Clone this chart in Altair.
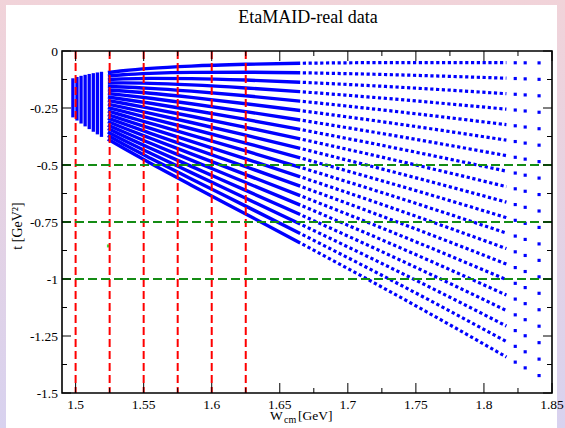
import altair as alt
import pandas as pd

# ---- kinematic grid of the EtaMAID data set: t [GeV^2] versus W_cm [GeV] ----
# cos(theta_cm) bins, one curve per bin (top curve = forward angles)
COS_BINS = [0.95, 0.85, 0.75, 0.65, 0.55, 0.45, 0.35, 0.25, 0.15, 0.05,
            -0.05, -0.15, -0.25, -0.35, -0.45, -0.55, -0.65, -0.75, -0.85, -0.95]

# columns just above threshold (points merge into vertical bars)
W_NEAR = [1.498, 1.501, 1.504, 1.507, 1.510, 1.513, 1.516, 1.519]
T_NEAR_TOP = [-0.1269, -0.1211, -0.1161, -0.1117, -0.1079, -0.1044, -0.1013, -0.0984]
T_NEAR_BOT = [-0.2839, -0.2978, -0.3109, -0.3234, -0.3354, -0.3470, -0.3584, -0.3695]

# densely sampled energy range: t for every cos bin at these W
W_DENSE = [1.5237, 1.535, 1.555, 1.585, 1.625, 1.665]
T_DENSE = [
    [-0.0943, -0.1097, -0.1251, -0.1405, -0.1558, -0.1712, -0.1866, -0.2020, -0.2173, -0.2327,
     -0.2481, -0.2635, -0.2788, -0.2942, -0.3096, -0.3250, -0.3403, -0.3557, -0.3711, -0.3865],
    [-0.0864, -0.1042, -0.1221, -0.1400, -0.1578, -0.1757, -0.1936, -0.2114, -0.2293, -0.2472,
     -0.2650, -0.2829, -0.3008, -0.3186, -0.3365, -0.3544, -0.3722, -0.3901, -0.4080, -0.4258],
    [-0.0761, -0.0980, -0.1199, -0.1418, -0.1637, -0.1856, -0.2075, -0.2294, -0.2514, -0.2733,
     -0.2952, -0.3171, -0.3390, -0.3609, -0.3828, -0.4047, -0.4266, -0.4485, -0.4704, -0.4923],
    [-0.0662, -0.0937, -0.1212, -0.1487, -0.1762, -0.2036, -0.2311, -0.2586, -0.2861, -0.3136,
     -0.3411, -0.3686, -0.3961, -0.4236, -0.4511, -0.4786, -0.5060, -0.5335, -0.5610, -0.5885],
    [-0.0583, -0.0929, -0.1274, -0.1620, -0.1965, -0.2311, -0.2657, -0.3002, -0.3348, -0.3693,
     -0.4039, -0.4385, -0.4730, -0.5076, -0.5421, -0.5767, -0.6112, -0.6458, -0.6804, -0.7149],
    [-0.0539, -0.0954, -0.1368, -0.1783, -0.2198, -0.2612, -0.3027, -0.3441, -0.3856, -0.4271,
     -0.4685, -0.5100, -0.5515, -0.5929, -0.6344, -0.6758, -0.7173, -0.7588, -0.8002, -0.8417],
]

# coarser, regularly spaced sampling at higher energies (drawn as dotted rows)
W_SPARSE = [1.665, 1.72, 1.78, 1.8165]
T_SPARSE = [
    [-0.0539, -0.0954, -0.1368, -0.1783, -0.2198, -0.2612, -0.3027, -0.3441, -0.3856, -0.4271,
     -0.4685, -0.5100, -0.5515, -0.5929, -0.6344, -0.6758, -0.7173, -0.7588, -0.8002, -0.8417],
    [-0.0511, -0.1021, -0.1530, -0.2039, -0.2549, -0.3058, -0.3568, -0.4077, -0.4587, -0.5096,
     -0.5606, -0.6115, -0.6625, -0.7134, -0.7643, -0.8153, -0.8662, -0.9172, -0.9681, -1.0191],
    [-0.0508, -0.1122, -0.1736, -0.2351, -0.2965, -0.3579, -0.4194, -0.4808, -0.5422, -0.6037,
     -0.6651, -0.7265, -0.7880, -0.8494, -0.9108, -0.9723, -1.0337, -1.0951, -1.1566, -1.2180],
    [-0.0514, -0.1194, -0.1873, -0.2552, -0.3232, -0.3911, -0.4590, -0.5270, -0.5949, -0.6628,
     -0.7308, -0.7987, -0.8667, -0.9346, -1.0025, -1.0705, -1.1384, -1.2063, -1.2743, -1.3422],
]

# last, widely spaced energy columns (individual points)
W_LAST = [1.823, 1.8303, 1.8405]
T_LAST = [
    [-0.0516, -0.1207, -0.1898, -0.2589, -0.3280, -0.3971, -0.4662, -0.5353, -0.6044, -0.6735,
     -0.7426, -0.8117, -0.8808, -0.9499, -1.0190, -1.0881, -1.1572, -1.2263, -1.2954, -1.3646],
    [-0.0518, -0.1222, -0.1926, -0.2631, -0.3335, -0.4039, -0.4743, -0.5447, -0.6152, -0.6856,
     -0.7560, -0.8264, -0.8968, -0.9672, -1.0377, -1.1081, -1.1785, -1.2489, -1.3193, -1.3898],
    [-0.0521, -0.1243, -0.1965, -0.2687, -0.3409, -0.4130, -0.4852, -0.5574, -0.6296, -0.7018,
     -0.7739, -0.8461, -0.9183, -0.9905, -1.0627, -1.1348, -1.2070, -1.2792, -1.3514, -1.4235],
]

# single extra point
W_EXTRA = [1.5241]
T_EXTRA = [-0.855]

# reference lines
W_MARKS = [1.5, 1.525, 1.55, 1.575, 1.6, 1.625]
T_MARKS = [-0.5, -0.75, -1.0]

# axis ticks and their labels
X_MAJOR = [1.5, 1.55, 1.6, 1.65, 1.7, 1.75, 1.8, 1.85]
X_LABELS = ["1.5", "1.55", "1.6", "1.65", "1.7", "1.75", "1.8", "1.85"]
X_MINOR = [1.525, 1.575, 1.625, 1.675, 1.725, 1.775, 1.825]
Y_MAJOR = [0, -0.25, -0.5, -0.75, -1, -1.25, -1.5]
Y_LABELS = ["0", "-0.25", "-0.5", "-0.75", "-1", "-1.25", "-1.5"]
Y_MINOR = [-0.125, -0.375, -0.625, -0.875, -1.125, -1.375]

W_PX, H_PX = 490, 342
SERIF = "Liberation Serif"
BLUE = "#0000ff"


def long_table(ws, rows):
    recs = []
    for w, row in zip(ws, rows):
        for c, t in zip(COS_BINS, row):
            recs.append({"W": w, "t": t, "cos": c})
    return pd.DataFrame(recs)


dense_df = long_table(W_DENSE, T_DENSE)
sparse_df = long_table(W_SPARSE, T_SPARSE)
last_df = long_table(W_LAST, T_LAST)
near_df = pd.DataFrame({"W": W_NEAR, "t": T_NEAR_TOP, "t2": T_NEAR_BOT})
extra_df = pd.DataFrame({"W": W_EXTRA, "t": T_EXTRA})
one = pd.DataFrame({"k": [0]})

xs = alt.Scale(domain=[1.49, 1.85], nice=False, zero=False)
ys = alt.Scale(domain=[-1.5, 0], nice=False, zero=False)


def X(field="W"):
    return alt.X(f"{field}:Q", scale=xs, axis=None)


def Y(field="t"):
    return alt.Y(f"{field}:Q", scale=ys, axis=None)


# window-style backdrop
backdrop = alt.Chart(one).mark_rect(
    color=alt.LinearGradient(
        gradient="linear",
        stops=[alt.GradientStop(color="#f1d3d9", offset=0),
               alt.GradientStop(color="#d8d2ef", offset=1)],
        x1=0, x2=0, y1=0, y2=1,
    )
).encode(x=alt.value(-62), x2=alt.value(503), y=alt.value(-51), y2=alt.value(377))

panel = alt.Chart(one).mark_rect(color="white").encode(
    x=alt.value(-56), x2=alt.value(495), y=alt.value(-46), y2=alt.value(377)
)

near = alt.Chart(near_df).mark_rule(color=BLUE, strokeWidth=3.3, strokeCap="square").encode(
    x=X(), y=Y(), y2="t2:Q"
)

dense = alt.Chart(dense_df).mark_line(
    color=BLUE, strokeWidth=3.4, interpolate="monotone"
).encode(x=X(), y=Y(), detail="cos:N", order="W:Q")

sparse = alt.Chart(sparse_df).mark_line(
    color=BLUE, strokeWidth=3.2, interpolate="monotone", strokeDash=[0, 2.6, 3.2, 0]
).encode(x=X(), y=Y(), detail="cos:N", order="W:Q")

last = alt.Chart(last_df).mark_square(color=BLUE, size=10, opacity=1).encode(x=X(), y=Y())

extra = alt.Chart(extra_df).mark_square(color="#3ddc3d", size=9, opacity=1).encode(x=X(), y=Y())

vlines = alt.Chart(pd.DataFrame({"W": W_MARKS})).mark_rule(
    color="#ff0000", strokeWidth=2, strokeDash=[8, 4]
).encode(x=X())

hlines = alt.Chart(pd.DataFrame({"t": T_MARKS})).mark_rule(
    color="#148c14", strokeWidth=2, strokeDash=[9, 4]
).encode(y=Y())


def xticks(vals, length):
    d = pd.DataFrame({"W": vals})
    bottom = alt.Chart(d).mark_rule(color="black", strokeWidth=1).encode(
        x=X(), y=alt.value(H_PX), y2=alt.value(H_PX - length))
    top = alt.Chart(d).mark_rule(color="black", strokeWidth=1).encode(
        x=X(), y=alt.value(0), y2=alt.value(length))
    return [bottom, top]


def yticks(vals, length):
    d = pd.DataFrame({"t": vals})
    left = alt.Chart(d).mark_rule(color="black", strokeWidth=1).encode(
        y=Y(), x=alt.value(0), x2=alt.value(length))
    right = alt.Chart(d).mark_rule(color="black", strokeWidth=1).encode(
        y=Y(), x=alt.value(W_PX), x2=alt.value(W_PX - length))
    return [left, right]


x_labels = alt.Chart(pd.DataFrame({"W": X_MAJOR, "lab": X_LABELS})).mark_text(
    font=SERIF, fontSize=13.5, color="black", align="center", baseline="alphabetic"
).encode(x=X(), y=alt.value(358), text="lab:N")

y_labels = alt.Chart(pd.DataFrame({"t": Y_MAJOR, "lab": Y_LABELS})).mark_text(
    font=SERIF, fontSize=13.5, color="black", align="right", baseline="alphabetic", dy=4.5
).encode(y=Y(), x=alt.value(-4), text="lab:N")

frame = alt.Chart(one).mark_rect(fillOpacity=0, stroke="black", strokeWidth=1.6).encode(
    x=alt.value(0), x2=alt.value(W_PX), y=alt.value(0), y2=alt.value(H_PX)
)


def label(text, x, y, size, angle=0, align="left"):
    return alt.Chart(one).mark_text(
        text=text, font=SERIF, fontSize=size, color="black", align=align,
        baseline="alphabetic", angle=angle
    ).encode(x=alt.value(x), y=alt.value(y))


title = label("EtaMAID-real data", 246, -28, 18, align="center")
xt_w = label("W", 208, 369, 13.5)
xt_cm = label("cm", 222, 372, 10)
xt_unit = label("[GeV]", 236, 369, 13.5)
yt = label("t [GeV²]", -40, 175, 14, angle=270, align="center")

layers = [backdrop, panel, near, dense, sparse, last, extra, vlines, hlines]
layers += xticks(X_MAJOR, 10) + xticks(X_MINOR, 5) + yticks(Y_MAJOR, 9) + yticks(Y_MINOR, 5)
layers += [frame, x_labels, y_labels, title, xt_w, xt_cm, xt_unit, yt]

chart = alt.layer(*layers).properties(
    width=W_PX, height=H_PX,
    autosize=alt.AutoSizeParams(type="none"),
    padding={"left": 62, "top": 51, "right": 13, "bottom": 35},
).configure_view(strokeWidth=0)

chart.save("out.html", embed_options={"renderer": "svg", "actions": False})
